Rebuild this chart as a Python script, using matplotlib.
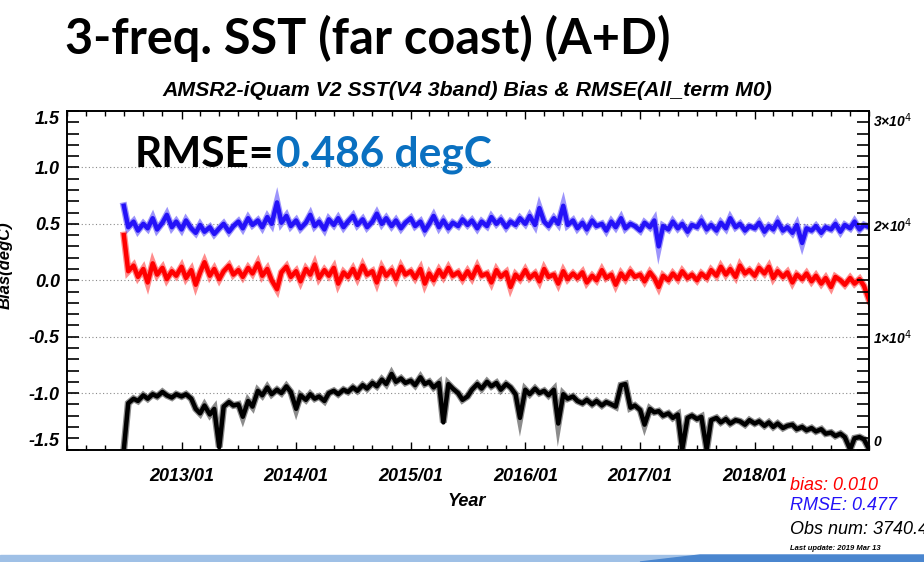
import pandas as pd
import matplotlib
matplotlib.use("Agg")
import matplotlib.pyplot as plt
import matplotlib.dates as mdates
from matplotlib.patches import Rectangle, Polygon

# values at semi-monthly steps, 2012/07/01 .. 2019/01/01
rmse = [
    0.66, 0.47, 0.52, 0.44, 0.50, 0.46, 0.55, 0.45, 0.51, 0.58, 0.47, 0.52,
    0.45, 0.53, 0.46, 0.42, 0.49, 0.43, 0.47, 0.41, 0.46, 0.50, 0.43, 0.48,
    0.52, 0.46, 0.55, 0.49, 0.53, 0.47, 0.56, 0.50, 0.69, 0.51, 0.57, 0.48,
    0.53, 0.46, 0.51, 0.58, 0.48, 0.52, 0.45, 0.54, 0.49, 0.55, 0.47, 0.52,
    0.57, 0.49, 0.54, 0.47, 0.52, 0.59, 0.50, 0.55, 0.48, 0.53, 0.46, 0.51,
    0.55, 0.48, 0.52, 0.44, 0.50, 0.57, 0.47, 0.53, 0.46, 0.51, 0.48, 0.54,
    0.49, 0.53, 0.46, 0.52, 0.48, 0.56, 0.50, 0.54, 0.47, 0.52, 0.49, 0.55,
    0.50, 0.57, 0.49, 0.64, 0.52, 0.48, 0.55, 0.50, 0.66, 0.49, 0.53, 0.46,
    0.51, 0.45, 0.53, 0.48, 0.50, 0.44, 0.52, 0.47, 0.55, 0.46, 0.50, 0.48,
    0.44, 0.51, 0.47, 0.53, 0.30, 0.48, 0.45, 0.52, 0.46, 0.50, 0.43, 0.49,
    0.47, 0.53, 0.45, 0.49, 0.44, 0.51, 0.46, 0.55, 0.47, 0.50, 0.44, 0.48,
    0.46, 0.51, 0.43, 0.48, 0.45, 0.52, 0.44, 0.47, 0.42, 0.49, 0.33, 0.46,
    0.44, 0.48, 0.42, 0.47, 0.45, 0.50, 0.43, 0.49, 0.46, 0.52, 0.45, 0.49,
    0.47,
]

bias = [
    0.40, 0.08, 0.13, 0.03, 0.10, -0.02, 0.15, 0.05, 0.11, 0.01, 0.08, 0.04,
    0.12, 0.02, 0.09, -0.04, 0.07, 0.16, 0.04, 0.10, 0.01, 0.08, 0.13, 0.05,
    0.09, 0.03, 0.11, 0.06, 0.15, 0.04, 0.10, 0.00, -0.08, 0.07, 0.12, 0.03,
    0.08, -0.01, 0.10, 0.05, 0.14, 0.02, 0.09, 0.04, 0.11, -0.03, 0.07, 0.03,
    0.10, 0.02, 0.13, 0.05, 0.08, -0.02, 0.11, 0.04, 0.09, 0.01, 0.12, 0.05,
    0.08, 0.02, 0.10, -0.03, 0.06, 0.00, 0.09, 0.03, 0.11, 0.04, 0.07, 0.01,
    0.08, 0.02, 0.12, 0.04, 0.06, -0.02, 0.09, 0.03, 0.07, -0.06, 0.05, 0.01,
    0.09, 0.02, 0.06, -0.01, 0.10, 0.03, 0.05, -0.03, 0.08, 0.01, 0.06, 0.02,
    0.07, -0.02, 0.04, 0.00, 0.09, 0.02, 0.05, -0.04, 0.06, 0.01, 0.08, 0.03,
    0.05, -0.01, 0.07, 0.02, -0.06, 0.04, 0.00, 0.06, 0.01, 0.08, 0.02, 0.05,
    0.00, 0.06, 0.02, 0.09, 0.04, 0.12, 0.05, 0.10, 0.03, 0.13, 0.06, 0.09,
    0.04, 0.11, 0.06, 0.12, 0.02, 0.08, 0.03, 0.07, -0.02, 0.05, 0.01, 0.06,
    -0.01, 0.04, -0.03, 0.02, -0.06, 0.03, 0.00, -0.04, 0.02, -0.03, 0.01, -0.05,
    -0.18,
]

obs_num = [
    0, 4100, 4500, 4300, 4800, 4500, 4900, 4700, 5100, 4800, 4600, 4900,
    4700, 4900, 4500, 3600, 3200, 3900, 3100, 3600, 200, 3800, 4200, 3900,
    4000, 2900, 4300, 3800, 5200, 4800, 5500, 4900, 5300, 5000, 5600, 5100,
    3600, 4800, 4400, 4900, 4500, 4700, 4300, 5000, 5200, 4900, 5300, 5100,
    5500, 5200, 5700, 5400, 5900, 5600, 6200, 5800, 6700, 6000, 6300, 5900,
    6100, 5700, 6400, 5800, 6000, 5500, 5900, 2400, 5800, 5400, 5000, 4400,
    4700, 5300, 5800, 5400, 6000, 5600, 5900, 5300, 5800, 5500, 4900, 2800,
    5300, 4900, 5400, 5000, 5200, 4800, 5300, 2300, 4900, 4500, 4700, 4300,
    4100, 4400, 4000, 4300, 3900, 4200, 4000, 3800, 5700, 5800, 3700, 3900,
    3500, 2200, 3600, 3300, 3400, 3000, 3200, 2800, 3100, 0, 2800, 3000,
    2700, 2900, 0, 2600, 2800, 2400, 2700, 2300, 2600, 2500, 2200, 2600,
    2300, 2500, 2100, 2400, 2000, 2300, 1900, 2100, 2200, 1800, 2000, 1700,
    1900, 1600, 1800, 1400, 1500, 1200, 1400, 1100, 0, 1000, 1100, 900,
    0,
]

dates = pd.date_range("2012-07-01", periods=len(rmse), freq="SMS")

year_ticks = pd.date_range("2013-01-01", "2018-01-01", freq="YS")
bias_ticks = [-1.5, -1.0, -0.5, 0.0, 0.5, 1.0, 1.5]
grid_levels = [-1.0, -0.5, 0.0, 0.5, 1.0]
obs_ticks = [0, 10000, 20000, 30000]
obs_labels = ["0", "1×10$^4$", "2×10$^4$", "3×10$^4$"]

W, H = 924, 562
fig = plt.figure(figsize=(W / 100, H / 100), dpi=100)
ax = fig.add_axes([66.7 / W, 1 - 449.5 / H, 802.6 / W, 338.5 / H])
ax2 = ax.twinx()

lab_font = dict(family="Liberation Sans", weight="bold", style="italic")

for g in grid_levels:
    ax.axhline(g, color="#8a8a8a", lw=0.8, ls=(0, (1, 2.2)), zorder=0)

# noisy daily series: a wide soft line under a narrower solid one
for vals, col, axis in [(rmse, "#2412f8", ax), (bias, "#ff0000", ax), (obs_num, "black", ax2)]:
    axis.plot(dates, vals, color=col, lw=5.0, alpha=0.45, solid_joinstyle="miter")
    axis.plot(dates, vals, color=col, lw=3.2)

ax.set_xlim(pd.Timestamp("2012-01-01"), pd.Timestamp("2019-01-01"))
ax.set_ylim(-1.5, 1.5)
ax2.set_ylim(0, 30000)

ax.set_xticks(year_ticks)
ax.xaxis.set_major_formatter(mdates.DateFormatter("%Y/%m"))
ax.xaxis.set_minor_locator(mdates.MonthLocator(bymonth=[1, 3, 5, 7, 9, 11]))
ax.set_yticks(bias_ticks)
ax.set_yticklabels(["%.1f" % t for t in bias_ticks])
ax.set_yticks([i / 10 for i in range(-15, 16)], minor=True)
ax2.set_yticks(obs_ticks)
ax2.set_yticklabels(obs_labels)
ax2.set_yticks(range(0, 30001, 1000), minor=True)

ax.tick_params(axis="x", which="major", direction="in", length=6, width=1, top=True, pad=13)
ax.tick_params(axis="x", which="minor", direction="in", length=3.5, width=1, top=True)
ax.tick_params(axis="y", which="both", direction="in", length=8.5, width=1.2, right=False, pad=5)
ax2.tick_params(axis="y", which="both", direction="in", length=8.5, width=1.2, pad=3)

for lbl in ax.get_xticklabels() + ax.get_yticklabels():
    lbl.set(**lab_font, fontsize=13)
for lbl in ax2.get_yticklabels():
    lbl.set(**lab_font, fontsize=10)
ax.get_yticklabels()[-1].set_va("top")
ax.get_yticklabels()[0].set_va("bottom")
ax2.get_yticklabels()[-1].set_va("top")
ax2.get_yticklabels()[0].set_va("bottom")

for sp in list(ax.spines.values()) + list(ax2.spines.values()):
    sp.set_linewidth(1.2)


def px(x, y):
    return x / W, 1 - y / H


fig.text(*px(467, 91), "AMSR2-iQuam V2 SST(V4 3band) Bias & RMSE(All_term M0)",
         ha="center", va="center", fontsize=15.3, **lab_font)
fig.text(*px(467, 502), "Year", ha="center", va="center", fontsize=13, **lab_font)
fig.text(*px(5, 265), "Bias(degC)", ha="center", va="center", rotation=90,
         fontsize=12, **lab_font)

fig.text(*px(65, 38), "3-freq. SST (far coast) (A+D)", ha="left", va="center",
         fontsize=35, family="Lato", weight="bold")
t1 = fig.text(*px(135, 155), "RMSE=", ha="left", va="center",
              fontsize=30.5, family="Lato", weight="bold")
fig.canvas.draw()
x_end = t1.get_window_extent().x1 + 2
fig.text(x_end / W, 1 - 155 / H, "0.486 degC", ha="left", va="center", color="#0a70c0",
         fontsize=30.5, family="Lato", weight="bold")

stat_font = dict(family="Liberation Sans", style="italic", fontsize=13, va="center")
fig.text(*px(790, 485), "bias: 0.010", color="#ff0000", **stat_font)
fig.text(*px(790, 506), "RMSE: 0.477", color="#2412f8", **stat_font)
fig.text(*px(790, 530), "Obs num: 3740.4", color="black", **stat_font)
fig.text(*px(790, 548), "Last update: 2019 Mar 13", color="black", fontsize=5.5,
         family="Liberation Sans", weight="bold", style="italic", va="center")

# slide footer band
fig.patches.append(Rectangle((0, 0), 1, 7 / H, transform=fig.transFigure,
                             color="#9fc0e6", zorder=0))
fig.patches.append(Polygon([px(640, 562), px(700, 555), px(924, 555), px(924, 562)],
                           closed=True, transform=fig.transFigure, color="#4a86cf",
                           zorder=0))

fig.savefig("out.png", dpi=100)
